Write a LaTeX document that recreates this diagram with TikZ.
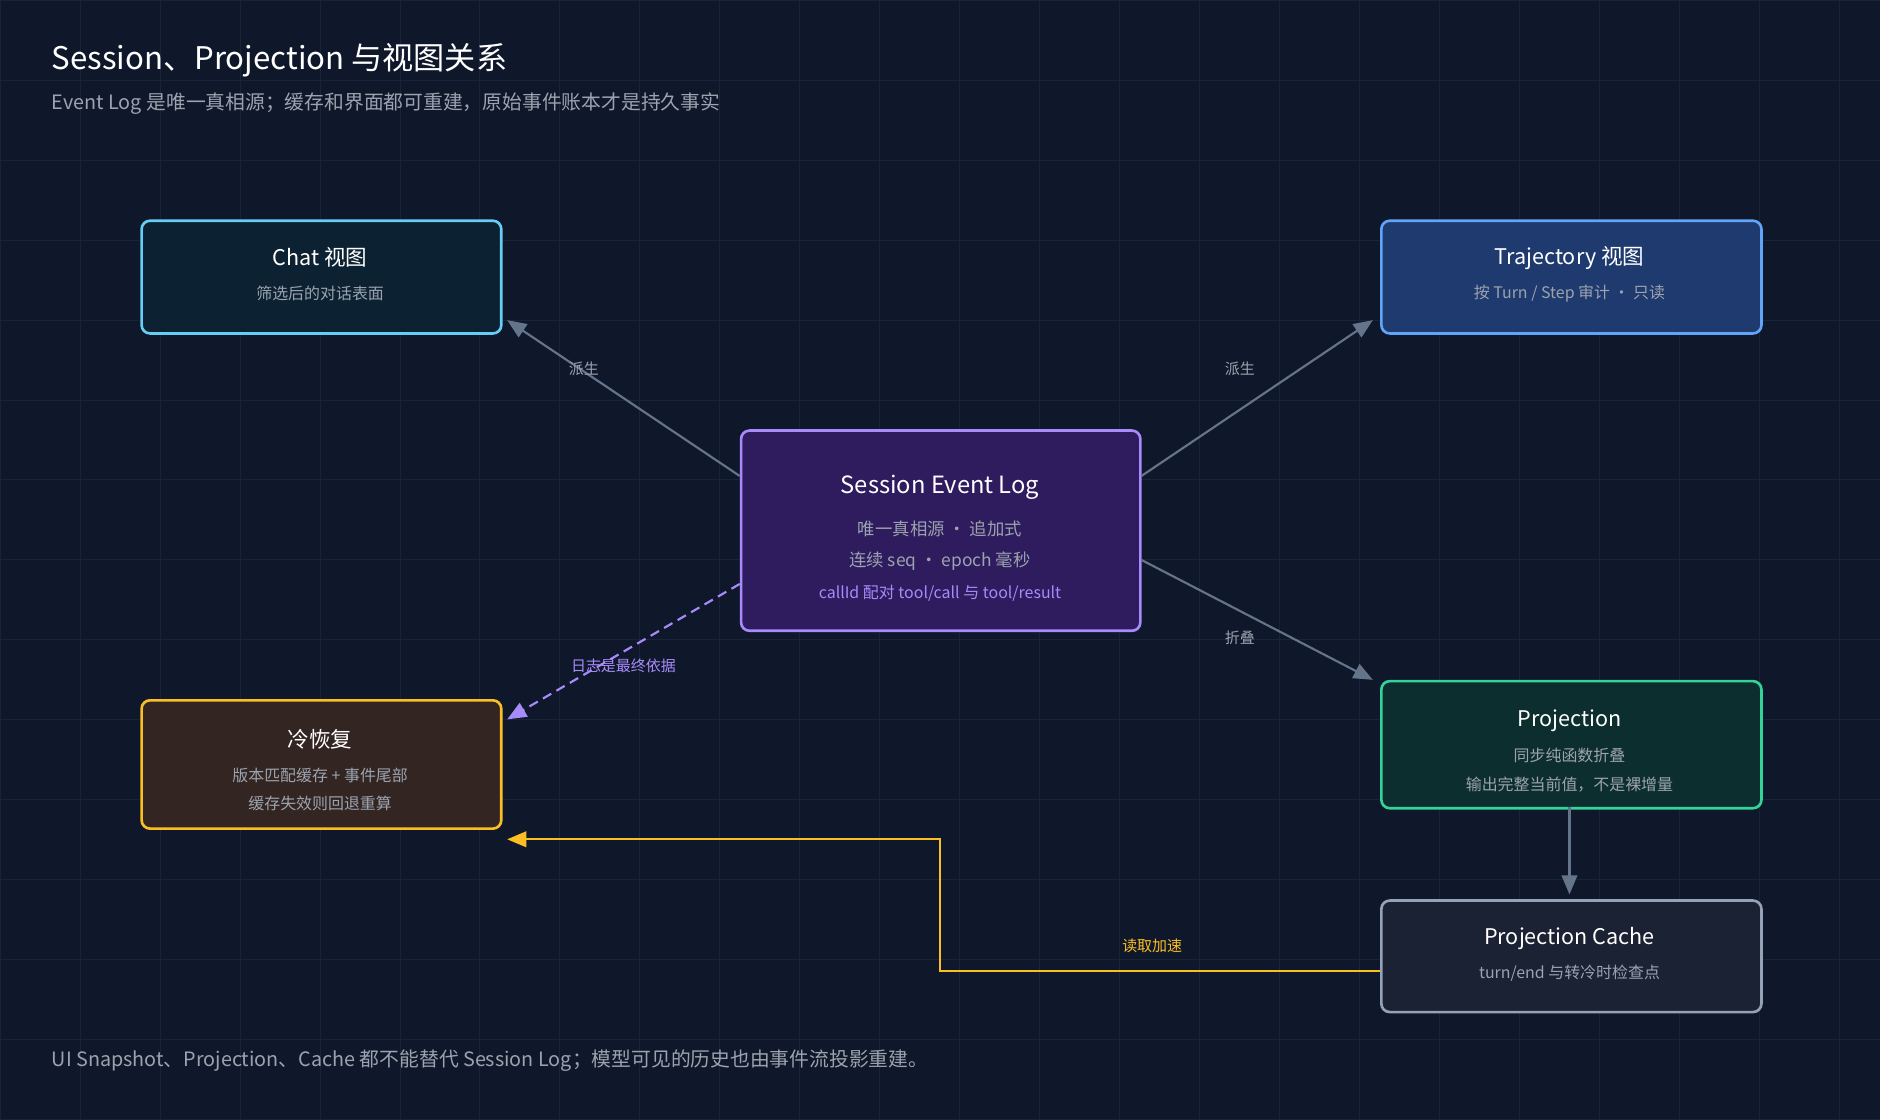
\documentclass[tikz,border=0pt]{standalone}
\usepackage{fontspec}
\setmainfont{Noto Sans CJK SC}
\usetikzlibrary{arrows.meta}
\definecolor{bg}{HTML}{0F172A}
\definecolor{gridc}{HTML}{1A2438}
\definecolor{sub}{HTML}{9CA3AF}
\definecolor{arr}{HTML}{64748B}
\definecolor{pur}{HTML}{A78BFA}
\definecolor{yel}{HTML}{FBBF24}
\tikzset{
 box/.style={draw, line width=2.2pt, rounded corners=7pt, anchor=north west, inner sep=0pt},
 ttl/.style={text=white, font=\fontsize{18}{20}\selectfont},
 st/.style={text=sub, font=\fontsize{13.3}{15}\selectfont},
 lbl/.style={text=sub, font=\fontsize{12.5}{14}\selectfont},
 con/.style={draw=arr, line width=1.8pt, -{Triangle[length=16pt,width=13pt]}},
}
\begin{document}
\begin{tikzpicture}[x=1pt,y=-1pt]
\useasboundingbox (0,0) rectangle (1568,934);
\fill[bg] (0,0) rectangle (1568,934);
\foreach \i in {0,...,24} \draw[gridc, line width=0.6pt] (\i*66.7,0) -- (\i*66.7,934);
\foreach \i in {0,...,14} \draw[gridc, line width=0.6pt] (0,\i*66.7) -- (1568,\i*66.7);
\node[anchor=west, inner sep=0pt, text=white, font=\fontsize{26}{30}\selectfont] (title) at (43,50) {Session、Projection 与视图关系};
\node[anchor=west, inner sep=0pt, text=sub, font=\fontsize{16.5}{19}\selectfont] (subt) at (43,86) {Event Log 是唯一真相源；缓存和界面都可重建，原始事件账本才是持久事实};
\node[anchor=west, inner sep=0pt, text=sub, font=\fontsize{16.5}{19}\selectfont] (foot) at (43,885) {UI Snapshot、Projection、Cache 都不能替代 Session Log；模型可见的历史也由事件流投影重建。};
% boxes
\node[box, draw=cyan!60!white, fill={rgb,255:red,12;green,34;blue,51}, minimum width=300pt, minimum height=94pt] (chat) at (117,183) {};
\node[ttl] at (267,215) {Chat 视图};
\node[st] at (267,245) {筛选后的对话表面};
\node[box, draw={rgb,255:red,96;green,165;blue,250}, fill={rgb,255:red,30;green,58;blue,110}, minimum width=317pt, minimum height=94pt] (traj) at (1151,183) {};
\node[ttl] at (1309,215) {Trajectory 视图};
\node[st] at (1309,245) {按 Turn / Step 审计 · 只读};
\node[box, draw=pur, fill={rgb,255:red,46;green,28;blue,94}, minimum width=333pt, minimum height=167pt] (sess) at (617,358) {};
\node[ttl, font=\fontsize{19.8}{22}\selectfont] at (784,406) {Session Event Log};
\node[st, font=\fontsize{14.5}{16}\selectfont] at (784,441) {唯一真相源 · 追加式};
\node[st, font=\fontsize{14.5}{16}\selectfont] at (784,468) {连续 seq · epoch 毫秒};
\node[st, text=pur] at (784,495) {callId 配对 tool/call 与 tool/result};
\node[box, draw=yel, fill={rgb,255:red,51;green,37;blue,34}, minimum width=300pt, minimum height=107pt] (cold) at (117,583) {};
\node[ttl] at (267,617) {冷恢复};
\node[st] at (267,647) {版本匹配缓存 + 事件尾部};
\node[st] at (267,670) {缓存失效则回退重算};
\node[box, draw={rgb,255:red,52;green,211;blue,153}, fill={rgb,255:red,13;green,46;blue,46}, minimum width=317pt, minimum height=106pt] (proj) at (1151,567) {};
\node[ttl] at (1309,601) {Projection};
\node[st] at (1309,630) {同步纯函数折叠};
\node[st] at (1309,654) {输出完整当前值，不是裸增量};
\node[box, draw={rgb,255:red,148;green,163;blue,184}, fill={rgb,255:red,26;green,34;blue,51}, minimum width=317pt, minimum height=93pt] (cache) at (1151,750) {};
\node[ttl] at (1309,783) {Projection Cache};
\node[st] at (1309,812) {turn/end 与转冷时检查点};
% connectors
\coordinate (s1) at (617,397); \coordinate (c1) at (423,267);
\coordinate (s2) at (952,397); \coordinate (t1) at (1145,267);
\coordinate (s3) at (952,467); \coordinate (p1) at (1145,567);
\coordinate (s4) at (617,487); \coordinate (k1) at (423,600);
\coordinate (p2) at (1309,673); \coordinate (q1) at (1309,746);
\coordinate (q2) at (1151,810); \coordinate (k2) at (423,700);
\draw[con] (s1) -- (c1);
\draw[con] (s2) -- (t1);
\draw[con] (s3) -- (p1);
\draw[con] (p2) -- (q1);
\draw[con, draw=pur, dashed, dash pattern=on 8pt off 5pt] (s4) -- (k1);
\draw[con, draw=yel] (q2) -- (784,810) -- (784,700) -- (k2);
\node[lbl] (l1) at (487,308) {派生};
\node[lbl] (l2) at (1034,308) {派生};
\node[lbl] (l3) at (1034,532) {折叠};
\node[lbl, text=pur] (l4) at (520,555) {日志是最终依据};
\node[lbl, text=yel] (l5) at (961,789) {读取加速};
\end{tikzpicture}
\end{document}
